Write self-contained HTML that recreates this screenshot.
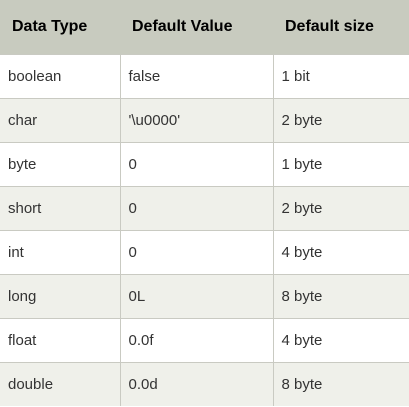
<!DOCTYPE html>
<html><head><style>
body{margin:0;width:409px;height:407px;overflow:hidden;background:#fff;font-family:"Liberation Sans",sans-serif;}
table{border-collapse:collapse;width:409px;table-layout:fixed;}
th{background:#c8cbbf;color:#000;font-weight:bold;font-size:16px;height:54px;padding:0 0 0 12px;text-align:left;}
td{font-size:15px;color:#333;height:43px;padding:0 0 0 8px;border-top:1px solid #c9cac2;border-left:1px solid #c9cac2;}
td:first-child{border-left:none;}
tbody tr:nth-child(odd) td{background:#fff;}
tbody tr:nth-child(even) td{background:#eff0ea;}
</style></head><body>
<table>
<colgroup><col style="width:120px"><col style="width:153px"><col style="width:136px"></colgroup>
<thead><tr><th>Data Type</th><th>Default Value</th><th>Default size</th></tr></thead>
<tbody>
<tr><td>boolean</td><td>false</td><td>1 bit</td></tr>
<tr><td>char</td><td>'\u0000'</td><td>2 byte</td></tr>
<tr><td>byte</td><td>0</td><td>1 byte</td></tr>
<tr><td>short</td><td>0</td><td>2 byte</td></tr>
<tr><td>int</td><td>0</td><td>4 byte</td></tr>
<tr><td>long</td><td>0L</td><td>8 byte</td></tr>
<tr><td>float</td><td>0.0f</td><td>4 byte</td></tr>
<tr><td>double</td><td>0.0d</td><td>8 byte</td></tr>
</tbody></table>
</body></html>
